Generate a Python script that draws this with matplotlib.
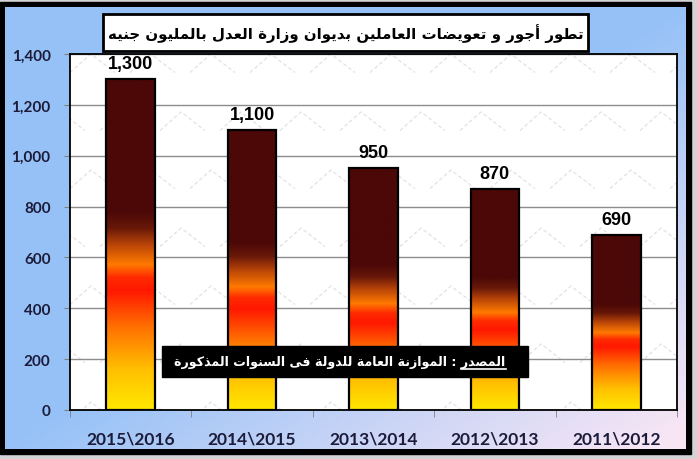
"""Bar chart: wages and compensation at the Ministry of Justice diwan (million EGP)."""

import matplotlib

matplotlib.use("Agg")
import matplotlib.pyplot as plt
import numpy as np
from matplotlib import font_manager
from matplotlib.colors import LinearSegmentedColormap
from matplotlib.patches import Rectangle

periods = ["2015\\2016", "2014\\2015", "2013\\2014", "2012\\2013", "2011\\2012"]
values = [1300, 1100, 950, 870, 690]
y_ticks = [0, 200, 400, 600, 800, 1000, 1200, 1400]

title = "تطور أجور و تعويضات العاملين بديوان وزارة العدل بالمليون جنيه"
source_word = "المصدر"
source_rest = " : الموازنة العامة للدولة فى السنوات المذكورة"

W, H = 697, 460

# --- tiny arabic shaper (matplotlib draws glyphs one by one, left to right) ---
_FORMS = {
    "ء": (0xFE80, 1), "آ": (0xFE81, 2), "أ": (0xFE83, 2), "ؤ": (0xFE85, 2),
    "إ": (0xFE87, 2), "ئ": (0xFE89, 4), "ا": (0xFE8D, 2), "ب": (0xFE8F, 4),
    "ة": (0xFE93, 2), "ت": (0xFE95, 4), "ث": (0xFE99, 4), "ج": (0xFE9D, 4),
    "ح": (0xFEA1, 4), "خ": (0xFEA5, 4), "د": (0xFEA9, 2), "ذ": (0xFEAB, 2),
    "ر": (0xFEAD, 2), "ز": (0xFEAF, 2), "س": (0xFEB1, 4), "ش": (0xFEB5, 4),
    "ص": (0xFEB9, 4), "ض": (0xFEBD, 4), "ط": (0xFEC1, 4), "ظ": (0xFEC5, 4),
    "ع": (0xFEC9, 4), "غ": (0xFECD, 4), "ف": (0xFED1, 4), "ق": (0xFED5, 4),
    "ك": (0xFED9, 4), "ل": (0xFEDD, 4), "م": (0xFEE1, 4), "ن": (0xFEE5, 4),
    "ه": (0xFEE9, 4), "و": (0xFEED, 2), "ى": (0xFEEF, 2), "ي": (0xFEF1, 4),
}
_LAM_ALEF = {"ا": 0xFEFB, "أ": 0xFEF7, "إ": 0xFEF9, "آ": 0xFEF5}


def shape_ar(s):
    units, i = [], 0
    while i < len(s):
        if s[i] == "ل" and i + 1 < len(s) and s[i + 1] in _LAM_ALEF:
            units.append(("LA", s[i + 1]))
            i += 2
        else:
            units.append(("C", s[i]))
            i += 1

    def joins_next(u):
        if u[0] == "LA":
            return False
        f = _FORMS.get(u[1])
        return f is not None and f[1] == 4

    def joins_prev(u):
        if u[0] == "LA":
            return True
        f = _FORMS.get(u[1])
        return f is not None and f[1] >= 2

    out = []
    for k, u in enumerate(units):
        p = k > 0 and joins_next(units[k - 1]) and joins_prev(u)
        n = k + 1 < len(units) and joins_next(u) and joins_prev(units[k + 1])
        if u[0] == "LA":
            out.append(chr(_LAM_ALEF[u[1]] + (1 if p else 0)))
            continue
        f = _FORMS.get(u[1])
        if f is None:
            out.append(u[1])
            continue
        base, nf = f
        if nf == 4:
            off = 3 if (p and n) else 1 if p else 2 if n else 0
        elif nf == 2:
            off = 1 if p else 0
        else:
            off = 0
        out.append(chr(base + off))
    return "".join(reversed(out))


names = {f.name for f in font_manager.fontManager.ttflist}
tick_font = "Lato" if "Lato" in names else "Open Sans" if "Open Sans" in names else "DejaVu Sans"

fig = plt.figure(figsize=(W / 100, H / 100), dpi=100)
fig.patch.set_facecolor("#d3d3d6")

# frame + background gradient, in pixel coords
bg = fig.add_axes([0, 0, 1, 1], zorder=-10)
bg.add_patch(Rectangle((0, 3), 691, 452, color="black", zorder=1))
gx, gy = np.meshgrid(np.linspace(0, 1, 200), np.linspace(0, 1, 140))
t = np.clip((gx + gy - 1.0) / 0.95, 0, 1)
c0, c1 = np.array([0.59, 0.76, 0.97]), np.array([0.97, 0.90, 0.96])
img = c0 + (c1 - c0) * t[..., None]
bg.imshow(img, extent=(5, 686, 450, 8), aspect="auto", interpolation="bilinear", zorder=2)
bg.set_xlim(0, W)
bg.set_ylim(H, 0)
bg.axis("off")

ax = fig.add_axes([70 / W, 1 - 411 / H, 607 / W, 356 / H])
ax.set_facecolor("white")

# faint watermark pattern
px, py = 60 / 607, 58 / 356
for r in range(8):
    for c in range(12):
        x0, y0 = c * px - (r % 2) * px / 2, 1 - r * py
        ax.plot([x0, x0 + 0.35 * px, x0 + 0.75 * px], [y0 - 0.32 * py, y0, y0 - 0.32 * py],
                transform=ax.transAxes, color="#e2e2e2", lw=0.9, ls=(0, (3, 2)),
                zorder=0.3, clip_on=True)

cmap = LinearSegmentedColormap.from_list("bar", [
    (0.00, "#ffe800"), (0.12, "#ffc000"), (0.25, "#ff7000"), (0.36, "#ff1800"),
    (0.40, "#ff2a00"), (0.44, "#ff7a00"), (0.50, "#b84408"), (0.55, "#681808"),
    (0.60, "#4b0807"), (1.00, "#4b0807"),
])
grad = np.linspace(0, 1, 256).reshape(-1, 1)
xs = np.arange(len(values))
bw = 0.40
for x, v in zip(xs, values):
    ax.imshow(grad, extent=(x - bw / 2, x + bw / 2, 0, v), origin="lower",
              cmap=cmap, aspect="auto", zorder=2)
ax.bar(xs, values, bw, fill=False, edgecolor="black", lw=1.6, zorder=3)
for x, v in zip(xs, values):
    ax.annotate(f"{v:,}", (x, v), xytext=(0, 5), textcoords="offset points",
                ha="center", va="bottom", fontsize=13, fontweight="bold",
                family="Liberation Sans", color="black", zorder=4)

ax.set_xlim(-0.5, len(values) - 0.5)
ax.set_ylim(0, 1400)
ax.set_yticks(y_ticks)
ax.set_yticklabels([f"{v:,}" for v in y_ticks], fontsize=11, fontweight="bold",
                   family=tick_font, color="#1c1c3a")
ax.set_xticks(xs)
ax.set_xticklabels(periods, fontsize=12.5, fontweight="bold", family=tick_font,
                   color="#1c1c3a")
ax.set_xticks(np.arange(len(values) + 1) - 0.5, minor=True)
ax.tick_params(axis="x", which="major", length=0, pad=15)
ax.tick_params(axis="x", which="minor", length=5, color="#808080")
ax.tick_params(axis="y", length=4, color="#808080", pad=10)
ax.yaxis.grid(True, color="#8c8c8c", lw=1)
ax.set_axisbelow(True)
for s in ax.spines.values():
    s.set_color("black")
    s.set_linewidth(1.3)

# overlay: title box and source box
top = fig.add_axes([0, 0, 1, 1], zorder=5)
top.set_xlim(0, W)
top.set_ylim(H, 0)
top.axis("off")
top.patch.set_alpha(0)
renderer = fig.canvas.get_renderer()


def fit(txt, width_px):
    ext = txt.get_window_extent(renderer)
    txt.set_fontsize(txt.get_fontsize() * width_px / ext.width)


top.add_patch(Rectangle((103, 15), 485, 37, facecolor="white", edgecolor="black", lw=2))
tt = top.text(345.5, 34, shape_ar(title), ha="center", va="center", fontsize=15,
              fontweight="bold", family="DejaVu Sans", color="black")
fit(tt, 476)

top.add_patch(Rectangle((162, 347), 366, 31, facecolor="black", edgecolor="black"))
full = top.text(340, 362.5, shape_ar(source_rest) + shape_ar(source_word), ha="center",
                va="center", fontsize=11, fontweight="bold", family="DejaVu Sans",
                color="white")
fit(full, 330)
probe = top.text(0, 0, shape_ar(source_word), fontsize=full.get_fontsize(),
                 fontweight="bold", family="DejaVu Sans")
wpx = probe.get_window_extent(renderer).width
probe.remove()
fe = full.get_window_extent(renderer)
x_right = 340 + fe.width / 2
top.plot([x_right - wpx, x_right], [370, 370], color="white", lw=1.2)

fig.savefig("out.png", dpi=100)
